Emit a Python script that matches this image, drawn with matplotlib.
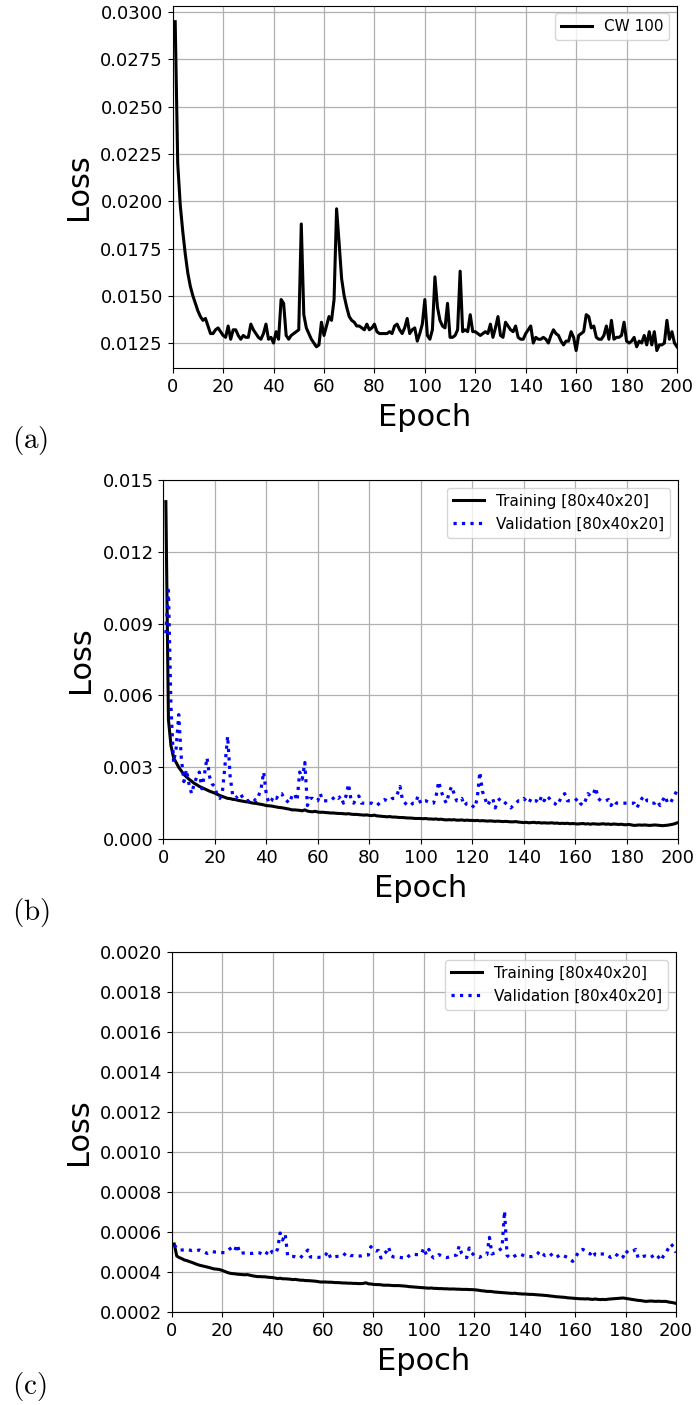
import matplotlib
matplotlib.use("Agg")
import matplotlib.pyplot as plt
from matplotlib.ticker import FormatStrFormatter

# epochs 1..200
epochs = list(range(1, 201))

# (a) CW 100 loss
loss_cw100 = [
    0.0295, 0.0220, 0.0198, 0.0184, 0.0172, 0.0162, 0.0155, 0.0150, 0.0146, 0.0142,
    0.0139, 0.0137, 0.0138, 0.0134, 0.0130, 0.0130, 0.0132, 0.0133, 0.0131, 0.0129,
    0.0128, 0.0134, 0.0127, 0.0132, 0.0132, 0.0129, 0.0127, 0.0129, 0.0128, 0.0128,
    0.0135, 0.0132, 0.0130, 0.0128, 0.0127, 0.0130, 0.0135, 0.0127, 0.0128, 0.0125,
    0.0131, 0.0127, 0.0148, 0.0146, 0.0129, 0.0127, 0.0129, 0.0130, 0.0131, 0.0132,
    0.0188, 0.0140, 0.0133, 0.0130, 0.0127, 0.0125, 0.0123, 0.0124, 0.0136, 0.0129,
    0.0134, 0.0139, 0.0137, 0.0148, 0.0196, 0.0178, 0.0159, 0.0150, 0.0144, 0.0139,
    0.0137, 0.0136, 0.0134, 0.0134, 0.0133, 0.0132, 0.0135, 0.0132, 0.0133, 0.0135,
    0.0131, 0.0130, 0.0130, 0.0130, 0.0130, 0.0131, 0.0130, 0.0134, 0.0135, 0.0132,
    0.0130, 0.0133, 0.0138, 0.0130, 0.0132, 0.0133, 0.0126, 0.0130, 0.0135, 0.0148,
    0.0129, 0.0127, 0.0132, 0.0160, 0.0144, 0.0137, 0.0134, 0.0133, 0.0146, 0.0128,
    0.0128, 0.0129, 0.0132, 0.0163, 0.0131, 0.0132, 0.0131, 0.0140, 0.0131, 0.0131,
    0.0130, 0.0129, 0.0130, 0.0131, 0.0130, 0.0135, 0.0128, 0.0133, 0.0139, 0.0129,
    0.0128, 0.0136, 0.0134, 0.0132, 0.0131, 0.0134, 0.0128, 0.0127, 0.0127, 0.0130,
    0.0132, 0.0134, 0.0125, 0.0128, 0.0127, 0.0127, 0.0128, 0.0127, 0.0125, 0.0129,
    0.0132, 0.0130, 0.0129, 0.0126, 0.0124, 0.0126, 0.0126, 0.0131, 0.0128, 0.0121,
    0.0129, 0.0130, 0.0131, 0.0140, 0.0139, 0.0133, 0.0134, 0.0128, 0.0127, 0.0127,
    0.0129, 0.0134, 0.0127, 0.0137, 0.0127, 0.0128, 0.0128, 0.0129, 0.0136, 0.0126,
    0.0125, 0.0126, 0.0128, 0.0123, 0.0126, 0.0125, 0.0129, 0.0124, 0.0131, 0.0124,
    0.0131, 0.0121, 0.0124, 0.0124, 0.0125, 0.0137, 0.0127, 0.0131, 0.0125, 0.0123,
]

# (b) training / validation, in units of 1e-3
train_b = [
    14.1, 5.0, 3.9, 3.4, 3.2, 3.0, 2.85, 2.7, 2.6, 2.5,
    2.42, 2.33, 2.27, 2.2, 2.15, 2.1, 2.05, 2.0, 1.96, 1.92,
    1.87, 1.82, 1.78, 1.74, 1.7, 1.69, 1.66, 1.65, 1.62, 1.6,
    1.58, 1.56, 1.55, 1.52, 1.5, 1.49, 1.47, 1.45, 1.43, 1.4,
    1.39, 1.38, 1.36, 1.34, 1.32, 1.31, 1.29, 1.27, 1.25, 1.22,
    1.22, 1.21, 1.2, 1.18, 1.22, 1.17, 1.15, 1.14, 1.16, 1.13,
    1.12, 1.12, 1.11, 1.1, 1.09, 1.09, 1.08, 1.07, 1.07, 1.06,
    1.05, 1.06, 1.04, 1.03, 1.03, 1.02, 1.01, 1.0, 1.01, 0.99,
    0.98, 1.0, 0.97, 0.96, 0.95, 0.94, 0.93, 0.94, 0.92, 0.92,
    0.91, 0.9, 0.9, 0.89, 0.88, 0.88, 0.87, 0.86, 0.86, 0.86,
    0.85, 0.86, 0.84, 0.84, 0.83, 0.84, 0.82, 0.83, 0.81, 0.8,
    0.81, 0.8, 0.81, 0.79, 0.79, 0.8, 0.78, 0.79, 0.78, 0.78,
    0.77, 0.78, 0.76, 0.77, 0.76, 0.75, 0.76, 0.75, 0.74, 0.75,
    0.74, 0.73, 0.74, 0.73, 0.72, 0.72, 0.73, 0.71, 0.7, 0.69,
    0.7, 0.68, 0.69, 0.7, 0.68, 0.69, 0.67, 0.68, 0.67, 0.67,
    0.68, 0.66, 0.67, 0.65, 0.66, 0.65, 0.66, 0.64, 0.65, 0.64,
    0.63, 0.64, 0.65, 0.63, 0.64, 0.62, 0.64, 0.63, 0.62, 0.63,
    0.64, 0.62, 0.63, 0.61, 0.63, 0.62, 0.61, 0.62, 0.6, 0.6,
    0.61, 0.59, 0.57, 0.58, 0.59, 0.58, 0.59, 0.58, 0.57, 0.58,
    0.59, 0.58, 0.57, 0.56, 0.57, 0.58, 0.6, 0.62, 0.65, 0.69,
]
val_b = [
    8.6, 10.4, 5.5, 3.2, 3.8, 5.2, 3.4, 2.4, 2.9, 2.3,
    1.9, 2.3, 2.6, 2.8, 2.1, 2.7, 3.4, 2.6, 2.3, 2.2,
    1.8, 1.7, 2.0, 3.1, 4.3, 2.6, 1.8, 1.7, 1.8, 1.9,
    1.7, 1.6, 1.6, 1.7, 1.7, 1.6, 1.8, 2.1, 2.8, 1.9,
    1.5, 1.6, 1.8, 1.7, 1.9, 1.9, 1.7, 1.6, 1.5, 1.8,
    1.9, 1.6, 2.8, 2.5, 3.2, 1.4, 1.7, 1.7, 1.6, 1.6,
    1.9, 1.6, 1.6, 1.6, 1.6, 1.7, 1.8, 1.7, 1.8, 1.5,
    1.8, 2.3, 1.6, 1.5, 1.7, 1.8, 1.5, 1.5, 1.5, 1.5,
    1.5, 1.45, 1.4, 1.5, 1.6, 1.65, 1.6, 1.6, 1.7, 1.7,
    1.9, 2.2, 1.6, 1.5, 1.4, 1.4, 1.5, 1.5, 1.8, 1.5,
    1.6, 1.6, 1.55, 1.5, 1.5, 1.8, 2.4, 2.0, 1.7, 1.5,
    1.9, 2.2, 1.9, 1.6, 1.6, 1.7, 1.4, 1.5, 1.5, 1.4,
    1.3, 1.7, 2.8, 2.0, 1.7, 1.4, 1.6, 1.7, 1.3, 1.6,
    1.7, 1.6, 1.5, 1.4, 1.3, 1.4, 1.5, 1.6, 1.6, 1.7,
    1.6, 1.5, 1.7, 1.6, 1.6, 1.5, 1.8, 1.6, 1.8, 1.7,
    1.55, 1.5, 1.4, 1.6, 1.8, 1.9, 1.6, 1.6, 1.6, 1.6,
    1.7, 1.5, 1.4, 1.6, 1.9, 1.8, 1.85, 2.15, 1.7, 1.6,
    1.6, 1.6, 1.65, 1.4, 1.6, 1.5, 1.5, 1.5, 1.5, 1.5,
    1.5, 1.5, 1.5, 1.3, 1.5, 1.7, 1.8, 1.6, 1.6, 1.5,
    1.5, 1.6, 1.4, 1.6, 1.8, 1.5, 1.5, 1.7, 1.9, 2.1,
]

# (c) training / validation, in units of 1e-4
train_c = [
    5.4, 4.8, 4.72, 4.67, 4.6, 4.57, 4.52, 4.48, 4.43, 4.38,
    4.34, 4.31, 4.28, 4.25, 4.22, 4.18, 4.15, 4.14, 4.12, 4.08,
    4.03, 3.98, 3.94, 3.92, 3.91, 3.89, 3.88, 3.87, 3.86, 3.87,
    3.84, 3.81, 3.79, 3.77, 3.77, 3.76, 3.76, 3.74, 3.73, 3.72,
    3.7, 3.67, 3.69, 3.66, 3.66, 3.65, 3.64, 3.62, 3.63, 3.61,
    3.59, 3.59, 3.57, 3.57, 3.56, 3.55, 3.54, 3.52, 3.5, 3.5,
    3.5, 3.49, 3.49, 3.48, 3.47, 3.47, 3.46, 3.45, 3.45, 3.44,
    3.44, 3.43, 3.43, 3.42, 3.42, 3.43, 3.46, 3.41, 3.4, 3.38,
    3.37, 3.37, 3.36, 3.34, 3.34, 3.34, 3.33, 3.32, 3.32, 3.32,
    3.31, 3.3, 3.29, 3.27, 3.26, 3.25, 3.24, 3.23, 3.22, 3.21,
    3.2, 3.19, 3.2, 3.18, 3.18, 3.17, 3.17, 3.16, 3.16, 3.15,
    3.15, 3.15, 3.14, 3.14, 3.13, 3.13, 3.13, 3.12, 3.12, 3.11,
    3.1, 3.08, 3.06, 3.05, 3.03, 3.03, 3.02, 3.0, 2.99, 2.98,
    2.97, 2.96, 2.95, 2.94, 2.93, 2.94, 2.92, 2.91, 2.9, 2.9,
    2.89, 2.88, 2.88, 2.87, 2.86, 2.85, 2.84, 2.83, 2.82, 2.8,
    2.79, 2.77, 2.76, 2.75, 2.74, 2.73, 2.71, 2.7, 2.69, 2.68,
    2.67, 2.66, 2.66, 2.65, 2.66, 2.64, 2.63, 2.65, 2.63, 2.62,
    2.63, 2.62, 2.64, 2.65, 2.66, 2.67, 2.68, 2.69, 2.7, 2.68,
    2.66, 2.64, 2.62, 2.6, 2.58, 2.57, 2.55, 2.53, 2.54, 2.55,
    2.54, 2.53, 2.54, 2.53, 2.53, 2.53, 2.5, 2.48, 2.46, 2.43,
]
val_c = [
    5.35, 5.2, 5.1, 5.1, 5.1, 5.13, 5.1, 5.07, 5.1, 5.07,
    5.1, 5.05, 5.0, 4.93, 5.0, 5.03, 5.0, 5.0, 4.98, 4.97,
    4.97, 5.05, 5.15, 5.23, 5.08, 5.37, 4.93, 4.95, 4.95, 4.93,
    4.93, 4.93, 4.95, 4.97, 4.95, 4.88, 4.83, 5.0, 5.15, 4.95,
    4.92, 5.15, 5.95, 5.6, 5.9, 4.8, 4.78, 4.78, 4.76, 4.72,
    4.7, 4.85, 4.95, 5.1, 4.75, 4.74, 4.74, 4.73, 4.74, 4.74,
    4.85, 5.03, 4.7, 4.75, 4.77, 4.78, 4.78, 4.8, 4.95, 4.88,
    4.82, 4.82, 4.8, 4.8, 4.8, 4.82, 4.84, 4.85, 5.27, 5.1,
    5.05, 5.08, 4.7, 4.9, 5.0, 5.25, 4.82, 4.75, 4.74, 4.74,
    4.72, 4.7, 4.67, 4.8, 4.9, 4.88, 4.87, 4.87, 4.9, 5.2,
    4.85, 5.13, 4.8, 4.7, 4.75, 4.87, 4.8, 4.75, 4.72, 4.75,
    4.8, 4.82, 4.85, 5.3, 4.92, 4.75, 4.72, 5.2, 4.95, 4.83,
    4.78, 4.73, 4.8, 4.85, 4.87, 5.73, 4.9, 4.95, 5.0, 5.1,
    5.2, 7.05, 4.83, 4.72, 4.7, 4.8, 4.87, 4.9, 4.85, 4.8,
    4.77, 4.77, 4.77, 4.8, 4.9, 5.05, 4.92, 4.82, 4.85, 4.93,
    4.8, 4.7, 4.77, 4.87, 4.83, 4.78, 4.73, 4.65, 4.53, 4.7,
    4.92, 5.1, 5.13, 5.07, 4.95, 4.9, 5.07, 4.85, 4.82, 4.9,
    4.9, 4.9, 4.82, 4.73, 4.8, 4.9, 4.8, 4.67, 4.75, 5.07,
    4.95, 5.0, 5.05, 5.13, 4.7, 4.73, 4.78, 4.8, 4.77, 4.73,
    4.82, 4.9, 4.75, 4.57, 4.8, 4.95, 5.2, 5.4, 5.25, 4.97,
]

label_train = "Training [80x40x20]"
label_val = "Validation [80x40x20]"

plt.rcParams['mathtext.fontset'] = 'cm'

fig = plt.figure(figsize=(6.96, 14.05), dpi=100)

axA = fig.add_axes([0.2481, 0.7381, 0.7246, 0.2579])
axB = fig.add_axes([0.2346, 0.4028, 0.7395, 0.2555])
axC = fig.add_axes([0.2467, 0.0662, 0.7246, 0.2562])

axA.plot(epochs, loss_cw100, color='k', lw=2.2, label='CW 100')
axB.plot(epochs, [v * 1e-3 for v in train_b], color='k', lw=2.2, label=label_train)
axB.plot(epochs, [v * 1e-3 for v in val_b], color='b', lw=2.3, ls=':', label=label_val)
axC.plot(epochs, [v * 1e-4 for v in train_c], color='k', lw=2.2, label=label_train)
axC.plot(epochs, [v * 1e-4 for v in val_c], color='b', lw=2.3, ls=':', label=label_val)

axA.set_ylim(0.01118, 0.03035)
axA.set_yticks([0.0125 + 0.0025 * k for k in range(8)])
axA.yaxis.set_major_formatter(FormatStrFormatter('%.4f'))

axB.set_ylim(0, 0.015)
axB.set_yticks([0.003 * k for k in range(6)])
axB.yaxis.set_major_formatter(FormatStrFormatter('%.3f'))

axC.set_ylim(0.0002, 0.0020)
axC.set_yticks([0.0002 * k for k in range(1, 11)])
axC.yaxis.set_major_formatter(FormatStrFormatter('%.4f'))

for ax in (axA, axB, axC):
    ax.set_xlim(0, 200)
    ax.set_xticks(range(0, 201, 20))
    ax.grid(True, color='#b0b0b0', lw=0.9)
    ax.tick_params(labelsize=13)
    ax.set_xlabel('Epoch', fontsize=22, labelpad=5)
    ax.set_ylabel('Loss', fontsize=22, labelpad=5)
    ax.legend(loc='upper right', fontsize=11)

fig.text(0.017, 0.681, r'$\mathrm{(a)}$', fontsize=21)
fig.text(0.017, 0.345, r'$\mathrm{(b)}$', fontsize=21)
fig.text(0.017, 0.008, r'$\mathrm{(c)}$', fontsize=21)

fig.savefig('out.png', dpi=100)
